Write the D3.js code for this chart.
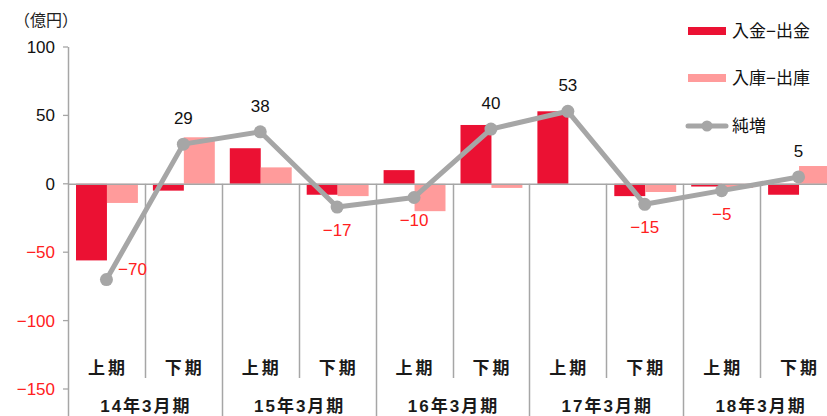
<!DOCTYPE html>
<html>
<head>
<meta charset="utf-8">
<script src="https://cdn.jsdelivr.net/npm/d3@7"></script>
<style>
  body { margin: 0; background: #fff; }
  text { font-family: "Liberation Sans", "Noto Sans CJK JP", sans-serif; }
</style>
</head>
<body>
<div id="chart"></div>
<script>
// data
var years = ["14年3月期", "15年3月期", "16年3月期", "17年3月期", "18年3月期"];
var halves = ["上期", "下期"];
var cashNet = [-56, -5, 26, -8, 10, 43, 53, -9, -2, -8];   // 入金-出金
var stockNet = [-14, 34, 12, -9, -20, -3, 0, -6, -3, 13]; // 入庫-出庫
var netIncrease = [-70, 29, 38, -17, -10, 40, 53, -15, -5, 5]; // 純増
var yTicks = [100, 50, 0, -50, -100, -150];

var width = 827, height = 416;
var red = "#EB1133", pink = "#FF9B9B", grey = "#A6A6A6";

var svg = d3.select("#chart").append("svg")
    .attr("width", width)
    .attr("height", height);

var periods = [];
years.forEach(function(y, i) {
  halves.forEach(function(h, j) { periods.push(i * 2 + j); });
});

var x = d3.scaleBand().domain(periods).range([68, 837]).paddingInner(0).paddingOuter(0);
var y = d3.scaleLinear().domain([-150, 100]).range([389, 47]);

var bx = d3.scaleBand().domain([0, 1]).range([8, x.bandwidth() - 7]);

// y axis labels
svg.append("text").attr("x", 14).attr("y", 26)
    .attr("font-size", 16).attr("fill", "#222").text("（億円）");

svg.selectAll(".ytick").data(yTicks).enter().append("text")
    .attr("x", 55)
    .attr("y", function(d) { return y(d) + 6; })
    .attr("text-anchor", "end")
    .attr("font-size", 17)
    .attr("fill", function(d) { return d < 0 ? "#FF2020" : "#111"; })
    .text(function(d) { return d < 0 ? "−" + Math.abs(d) : d; });

svg.selectAll(".tickmark").data(yTicks).enter().append("line")
    .attr("x1", 63).attr("x2", 68)
    .attr("y1", function(d) { return y(d); })
    .attr("y2", function(d) { return y(d); })
    .attr("stroke", grey).attr("stroke-width", 1.3);

svg.append("line").attr("x1", 68.5).attr("x2", 68.5).attr("y1", y(100)).attr("y2", height)
    .attr("stroke", grey).attr("stroke-width", 1.5);

// separators
periods.slice(1).forEach(function(p) {
  var sx = Math.round(x(p)) + 0.5;
  svg.append("line")
      .attr("x1", sx).attr("x2", sx)
      .attr("y1", y(0)).attr("y2", p % 2 === 0 ? height : 378)
      .attr("stroke", grey).attr("stroke-width", 1.5);
});

// bars
svg.selectAll(".cash").data(cashNet).enter().append("rect")
    .attr("x", function(d, i) { return x(i) + bx(0); })
    .attr("width", bx.bandwidth())
    .attr("y", function(d) { return y(Math.max(0, d)); })
    .attr("height", function(d) { return Math.abs(y(d) - y(0)); })
    .attr("fill", red);

svg.selectAll(".stock").data(stockNet).enter().append("rect")
    .attr("x", function(d, i) { return x(i) + bx(1); })
    .attr("width", bx.bandwidth())
    .attr("y", function(d) { return y(Math.max(0, d)); })
    .attr("height", function(d) { return Math.abs(y(d) - y(0)); })
    .attr("fill", pink);

// zero line
svg.append("line").attr("x1", 68).attr("x2", width).attr("y1", y(0) + 0.5).attr("y2", y(0) + 0.5)
    .attr("stroke", grey).attr("stroke-width", 1.5);

// category labels
svg.selectAll(".half").data(periods).enter().append("text")
    .attr("x", function(d) { return x(d) + x.bandwidth() / 2 + 1.5; })
    .attr("y", 374)
    .attr("text-anchor", "middle")
    .attr("font-size", 17).attr("font-weight", "bold").attr("fill", "#1a1a1a")
    .attr("letter-spacing", 3)
    .text(function(d) { return halves[d % 2]; });

svg.selectAll(".year").data(years).enter().append("text")
    .attr("x", function(d, i) { return x(i * 2) + x.bandwidth() + 1; })
    .attr("y", 412)
    .attr("text-anchor", "middle")
    .attr("font-size", 17).attr("font-weight", "bold").attr("fill", "#1a1a1a")
    .attr("letter-spacing", 2)
    .text(function(d) { return d; });

// line
var line = d3.line()
    .x(function(d, i) { return x(i) + x.bandwidth() / 2; })
    .y(function(d) { return y(d); });

svg.append("path").datum(netIncrease)
    .attr("d", line)
    .attr("fill", "none")
    .attr("stroke", grey)
    .attr("stroke-width", 5)
    .attr("stroke-linejoin", "round");

svg.selectAll(".dot").data(netIncrease).enter().append("circle")
    .attr("cx", function(d, i) { return x(i) + x.bandwidth() / 2; })
    .attr("cy", function(d) { return y(d); })
    .attr("r", 6.5)
    .attr("fill", grey);

svg.selectAll(".vlabel").data(netIncrease).enter().append("text")
    .attr("x", function(d, i) {
      var cx = x(i) + x.bandwidth() / 2;
      return i === 0 ? cx + 26 : cx;
    })
    .attr("y", function(d, i) {
      if (i === 0) return y(d) - 5;
      return d < 0 ? y(d) + 29 : y(d) - 20;
    })
    .attr("text-anchor", "middle")
    .attr("font-size", 17)
    .attr("fill", function(d) { return d < 0 ? "#FF2020" : "#111"; })
    .text(function(d) { return d < 0 ? "−" + Math.abs(d) : d; });

// legend
var legend = svg.append("g");
legend.append("rect").attr("x", 688).attr("y", 27).attr("width", 38).attr("height", 8).attr("fill", red);
legend.append("text").attr("x", 732).attr("y", 37).attr("font-size", 17).attr("fill", "#111").text("入金−出金");
legend.append("rect").attr("x", 688).attr("y", 74).attr("width", 38).attr("height", 8).attr("fill", pink);
legend.append("text").attr("x", 732).attr("y", 84).attr("font-size", 17).attr("fill", "#111").text("入庫−出庫");
legend.append("line").attr("x1", 688).attr("x2", 726).attr("y1", 126).attr("y2", 126)
    .attr("stroke", grey).attr("stroke-width", 5).attr("stroke-linecap", "round");
legend.append("circle").attr("cx", 707).attr("cy", 126).attr("r", 5.5).attr("fill", grey);
legend.append("text").attr("x", 732).attr("y", 132).attr("font-size", 17).attr("fill", "#111").text("純増");
</script>
</body>
</html>
